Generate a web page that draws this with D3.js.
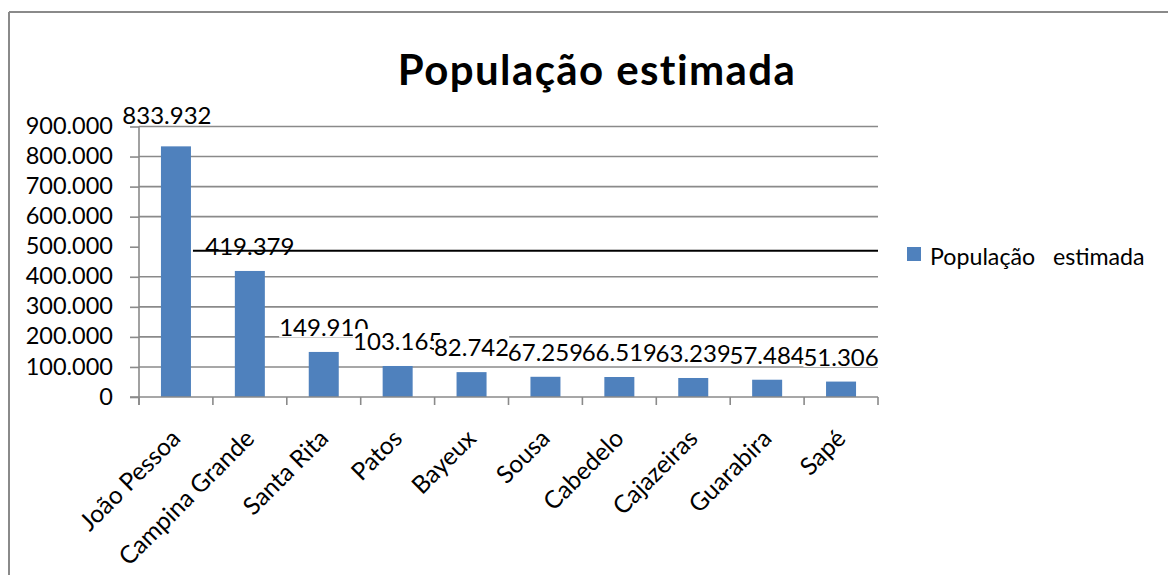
<!DOCTYPE html>
<html>
<head>
<meta charset="utf-8">
<script src="https://cdn.jsdelivr.net/npm/d3@7"></script>
<style>
  html, body { margin: 0; padding: 0; background: #fff; }
  svg { display: block; font-family: Lato, "Open Sans", sans-serif; }
</style>
</head>
<body>
<svg id="chart" width="1168" height="575"></svg>
<script>
const categories = ["João Pessoa", "Campina Grande", "Santa Rita", "Patos", "Bayeux", "Sousa", "Cabedelo", "Cajazeiras", "Guarabira", "Sapé"];
const values = [833932, 419379, 149910, 103165, 82742, 67259, 66519, 63239, 57484, 51306];
const yTicks = [0, 100000, 200000, 300000, 400000, 500000, 600000, 700000, 800000, 900000];
const seriesName = "População   estimada";
const titleText = "População estimada";

(function () {
const loc = d3.formatLocale({decimal: ",", thousands: ".", grouping: [3], currency: ["", ""]});
const fmt = loc.format(",d");

const svg = d3.select("#chart");
const W = 1168, H = 575;
const pLeft = 139, pRight = 878, pTop = 126.5, pBottom = 397;
const grey = "#8a8a8a";

// outer frame
svg.append("line").attr("x1", 9).attr("x2", W).attr("y1", 12).attr("y2", 12).attr("stroke", grey).attr("stroke-width", 2);
svg.append("line").attr("x1", 9).attr("x2", 9).attr("y1", 12).attr("y2", H).attr("stroke", grey).attr("stroke-width", 2);

const x = d3.scaleBand().domain(categories).range([pLeft, pRight]).paddingInner(0.594).paddingOuter(0.297);
const y = d3.scaleLinear().domain([0, 900000]).range([pBottom, pTop]);

// gridlines (500k one is replaced by the black line)
svg.append("g").selectAll("line").data(yTicks.filter(t => t !== 0 && t !== 500000)).join("line")
  .attr("x1", pLeft).attr("x2", pRight)
  .attr("y1", d => y(d)).attr("y2", d => y(d))
  .attr("stroke", grey).attr("stroke-width", 1.6);

// bars
svg.append("g").selectAll("rect").data(values).join("rect")
  .attr("x", (d, i) => x(categories[i]))
  .attr("width", x.bandwidth())
  .attr("y", d => y(d))
  .attr("height", d => y(0) - y(d))
  .attr("fill", "#4F81BD");

// y axis
const yAxis = svg.append("g").attr("transform", `translate(${pLeft},0)`)
  .call(d3.axisLeft(y).tickValues(yTicks).tickSize(9).tickPadding(17).tickFormat(fmt));
yAxis.select(".domain").remove();
yAxis.selectAll(".tick line").attr("stroke", grey).attr("stroke-width", 1.6);
yAxis.selectAll(".tick text").attr("font-size", 23.5).attr("fill", "#000").attr("font-family", "Lato").attr("dy", "0.3em");
svg.append("line").attr("x1", pLeft).attr("x2", pLeft).attr("y1", y(900000)).attr("y2", pBottom + 8).attr("stroke", grey).attr("stroke-width", 1.6);

// x axis
svg.append("line").attr("x1", pLeft - 9).attr("x2", pRight).attr("y1", pBottom).attr("y2", pBottom).attr("stroke", grey).attr("stroke-width", 1.6);
svg.append("g").selectAll("line").data(d3.range(categories.length + 1)).join("line")
  .attr("x1", i => x.range()[0] + i * x.step()).attr("x2", i => x.range()[0] + i * x.step())
  .attr("y1", pBottom).attr("y2", pBottom + 8)
  .attr("stroke", grey).attr("stroke-width", 1.6);

// category labels
svg.append("g").selectAll("text").data(categories).join("text")
  .attr("transform", d => `translate(${x(d) + x.bandwidth() / 2 + 6},${pBottom + 43}) rotate(-45)`)
  .attr("text-anchor", "end")
  .attr("font-size", 24.5)
  .attr("fill", "#000")
  .text(d => d);

// data labels with white background
const lg = svg.append("g");
values.forEach((v, i) => {
  const clamped = y(v) - 32 < pTop;
  const ly = clamped ? pTop - 3 : y(v) - 16;
  const lx = x(categories[i]) + x.bandwidth() / 2 - (clamped ? 9 : 0);
  const g = lg.append("g");
  const r = g.append("rect").attr("fill", "#fff");
  const t = g.append("text").attr("x", lx).attr("y", ly).attr("text-anchor", "middle")
    .attr("font-size", 24).attr("fill", "#000").text(fmt(v));
  const bb = t.node().getBBox();
  r.attr("x", bb.x).attr("y", bb.y + 3).attr("width", bb.width).attr("height", (ly + 1.5) - (bb.y + 3));
});

// black line artifact over the 500k gridline
svg.append("line").attr("x1", x(categories[0]) + x.bandwidth() + 2).attr("x2", pRight)
  .attr("y1", y(500000) + 4).attr("y2", y(500000) + 4)
  .attr("stroke", "#000").attr("stroke-width", 2);

// title
svg.append("text").attr("x", 597).attr("y", 85).attr("text-anchor", "middle")
  .attr("font-size", 42).attr("font-weight", "bold").attr("letter-spacing", 1.4).attr("fill", "#000").text(titleText);

// legend
svg.append("rect").attr("x", 907).attr("y", 247).attr("width", 14).attr("height", 14).attr("fill", "#4F81BD");
svg.append("text").attr("x", 930).attr("y", 265).attr("font-size", 23.2).attr("fill", "#000")
  .attr("xml:space", "preserve").style("white-space", "pre").text(seriesName);
})();
</script>
</body>
</html>
